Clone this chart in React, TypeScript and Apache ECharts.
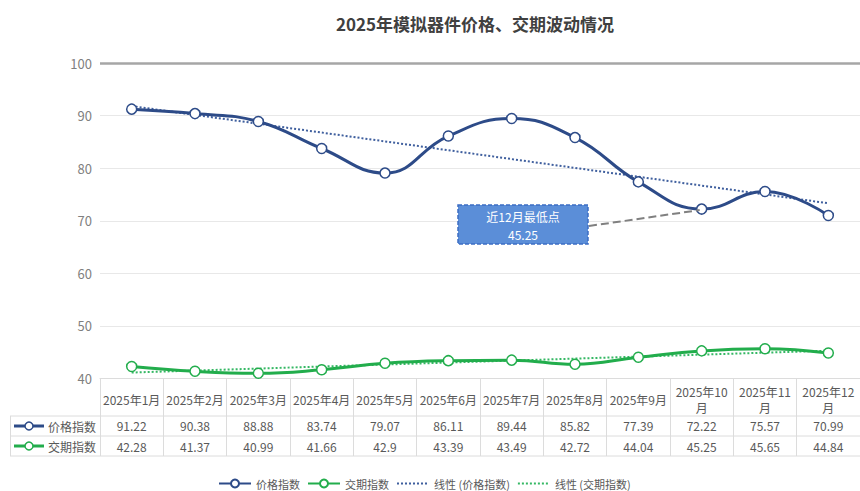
import React, { useEffect, useRef } from "react";
import * as echarts from "echarts";

const categories = [
  "2025年1月", "2025年2月", "2025年3月", "2025年4月", "2025年5月", "2025年6月",
  "2025年7月", "2025年8月", "2025年9月", "2025年10月", "2025年11月", "2025年12月",
];
const priceIndex = [91.22, 90.38, 88.88, 83.74, 79.07, 86.11, 89.44, 85.82, 77.39, 72.22, 75.57, 70.99];
const leadIndex = [42.28, 41.37, 40.99, 41.66, 42.9, 43.39, 43.49, 42.72, 44.04, 45.25, 45.65, 44.84];
const seriesNames = ["价格指数", "交期指数", "线性 (价格指数)", "线性 (交期指数)"];
const yTicks = { min: 40, max: 100, interval: 10 };
const annotation = { title: "近12月最低点", value: "45.25", category: "2025年10月", target: 72.22 };

// Least-squares linear trend (as Excel's "线性" trendline) derived from the data
function linearTrend(vals: number[]): number[] {
  const n = vals.length;
  const xm = (n - 1) / 2;
  const ym = vals.reduce((a, b) => a + b, 0) / n;
  let sxy = 0, sxx = 0;
  vals.forEach((v, i) => { sxy += (i - xm) * (v - ym); sxx += (i - xm) * (i - xm); });
  const k = sxy / sxx;
  return vals.map((_, i) => +(ym + k * (i - xm)).toFixed(3));
}

const BLUE = "#2d4b88";
const GREEN = "#22ad4c";
const FONT = "'Noto Sans CJK SC', 'Noto Sans', sans-serif";
const GRID_LINE = "#dcdcdc";

export default function App() {
  const ref = useRef<HTMLDivElement>(null);
  useEffect(() => {
    document.body.style.margin = "0";
    if (!ref.current) return;
    const chart = echarts.init(ref.current, undefined, { renderer: "svg" });
    const gridLeft = 100, gridTop = 63, axisY = 378.5;
    const rowLines = [416, 436, 456];
    const valueLabel = (arr: number[]) => arr.map((v) => String(v));
    const option: any = {
      animation: false,
      textStyle: { fontFamily: FONT },
      title: {
        text: "2025年模拟器件价格、交期波动情况",
        left: 470, top: 10, textAlign: "center",
        textStyle: { fontSize: 17, fontWeight: "bold", color: "#404040", fontFamily: FONT },
      },
      grid: { left: gridLeft, right: -8, top: gridTop, bottom: 491 - axisY, containLabel: false },
      legend: {
        top: 473, left: 213,
        itemWidth: 32, itemHeight: 10, itemGap: 7,
        textStyle: { fontSize: 11, color: "#595959", fontFamily: FONT },
        data: [
          { name: seriesNames[0] },
          { name: seriesNames[1] },
          { name: seriesNames[2], itemStyle: { opacity: 0 } },
          { name: seriesNames[3], itemStyle: { opacity: 0 } },
        ],
      },
      xAxis: [
        {
          type: "category", data: categories, boundaryGap: true, position: "bottom",
          axisLine: { show: true, lineStyle: { color: GRID_LINE } },
          axisTick: { show: true, interval: 0, length: 456 - axisY, lineStyle: { color: GRID_LINE } },
          axisLabel: {
            interval: 0, margin: 21, fontSize: 12, color: "#595959", fontFamily: FONT,
            verticalAlign: "middle", lineHeight: 16,
            formatter: (v: string) => (v.length > 7 ? v.slice(0, v.length - 1) + "\n" + v.slice(-1) : v),
          },
          splitLine: { show: false },
        },
        {
          type: "category", data: valueLabel(priceIndex), position: "bottom",
          axisLine: { show: false }, axisTick: { show: false },
          axisLabel: { interval: 0, margin: 47, fontSize: 12, color: "#595959", fontFamily: FONT, verticalAlign: "middle" },
        },
        {
          type: "category", data: valueLabel(leadIndex), position: "bottom",
          axisLine: { show: false }, axisTick: { show: false },
          axisLabel: { interval: 0, margin: 67.5, fontSize: 12, color: "#595959", fontFamily: FONT, verticalAlign: "middle" },
        },
      ],
      yAxis: {
        type: "value", min: yTicks.min, max: yTicks.max, interval: yTicks.interval,
        axisLine: { show: false }, axisTick: { show: false },
        axisLabel: { margin: 8, fontSize: 13, color: "#7f7f7f", fontFamily: FONT },
        splitLine: { lineStyle: { color: "#e8e8e8", width: 1 } },
      },
      series: [
        {
          name: seriesNames[0], type: "line", data: priceIndex, smooth: 0.45,
          symbol: "circle", symbolSize: 10, z: 5,
          lineStyle: { color: BLUE, width: 3 },
          itemStyle: { color: "#ffffff", borderColor: BLUE, borderWidth: 1.5 },
          markLine: {
            silent: true, symbol: "none", label: { show: false },
            lineStyle: { color: "#a6a6a6", width: 2.5, type: "solid" },
            data: [{ yAxis: yTicks.max }],
          },
        },
        {
          name: seriesNames[1], type: "line", data: leadIndex, smooth: 0.45,
          symbol: "circle", symbolSize: 10, z: 5,
          lineStyle: { color: GREEN, width: 3 },
          itemStyle: { color: "#ffffff", borderColor: GREEN, borderWidth: 1.5 },
        },
        {
          name: seriesNames[2], type: "line", data: linearTrend(priceIndex), symbol: "none", z: 4,
          lineStyle: { color: "#3f5f9e", width: 2, type: "dotted" },
          itemStyle: { color: "#3f5f9e" },
        },
        {
          name: seriesNames[3], type: "line", data: linearTrend(leadIndex), symbol: "none", z: 4,
          lineStyle: { color: "#35b864", width: 2, type: "dotted" },
          itemStyle: { color: "#35b864" },
        },
      ],
    };
    chart.setOption(option);

    const target = chart.convertToPixel({ xAxisIndex: 0, yAxisIndex: 0 }, [annotation.category, annotation.target]) as number[];
    const box = { x: 458, y: 205, w: 130, h: 39 };
    const graphic: any[] = [
      // table horizontal lines
      ...rowLines.map((y) => ({
        type: "line", silent: true,
        shape: { x1: 10, y1: y, x2: 860, y2: y },
        style: { stroke: GRID_LINE, lineWidth: 1 },
      })),
      {
        type: "line", silent: true,
        shape: { x1: 10.5, y1: rowLines[0], x2: 10.5, y2: rowLines[2] },
        style: { stroke: GRID_LINE, lineWidth: 1 },
      },
      // row keys
      ...[
        { color: BLUE, name: seriesNames[0], y: (rowLines[0] + rowLines[1]) / 2 },
        { color: GREEN, name: seriesNames[1], y: (rowLines[1] + rowLines[2]) / 2 },
      ].flatMap((r) => [
        { type: "line", shape: { x1: 14, y1: r.y, x2: 44, y2: r.y }, style: { stroke: r.color, lineWidth: 3 } },
        { type: "circle", shape: { cx: 29, cy: r.y, r: 4 }, style: { fill: "#fff", stroke: r.color, lineWidth: 1.5 } },
        {
          type: "text", x: 48, y: r.y,
          style: { text: r.name, fill: "#595959", font: `12px ${FONT}`, verticalAlign: "middle", align: "left" },
        },
      ]),
      // annotation connector
      {
        type: "line", z: 10,
        shape: { x1: box.x + box.w + 1, y1: box.y + 21, x2: target[0] - 2, y2: target[1] + 1 },
        style: { stroke: "#808080", lineWidth: 2, lineDash: [8, 4] },
      },
      {
        type: "rect", z: 10,
        shape: { x: box.x, y: box.y, width: box.w, height: box.h },
        style: { fill: "#5b8ed8", stroke: "#3d6ec4", lineWidth: 1.5, lineDash: [4, 2] },
      },
      {
        type: "text", z: 11, x: box.x + box.w / 2, y: box.y + 11,
        style: { text: annotation.title, fill: "#ffffff", font: `12px ${FONT}`, align: "center", verticalAlign: "middle" },
      },
      {
        type: "text", z: 11, x: box.x + box.w / 2, y: box.y + 29,
        style: { text: annotation.value, fill: "#ffffff", font: `12px ${FONT}`, align: "center", verticalAlign: "middle" },
      },
    ];
    chart.setOption({ graphic });
    return () => chart.dispose();
  }, []);
  return <div ref={ref} style={{ width: 860, height: 491 }} />;
}
